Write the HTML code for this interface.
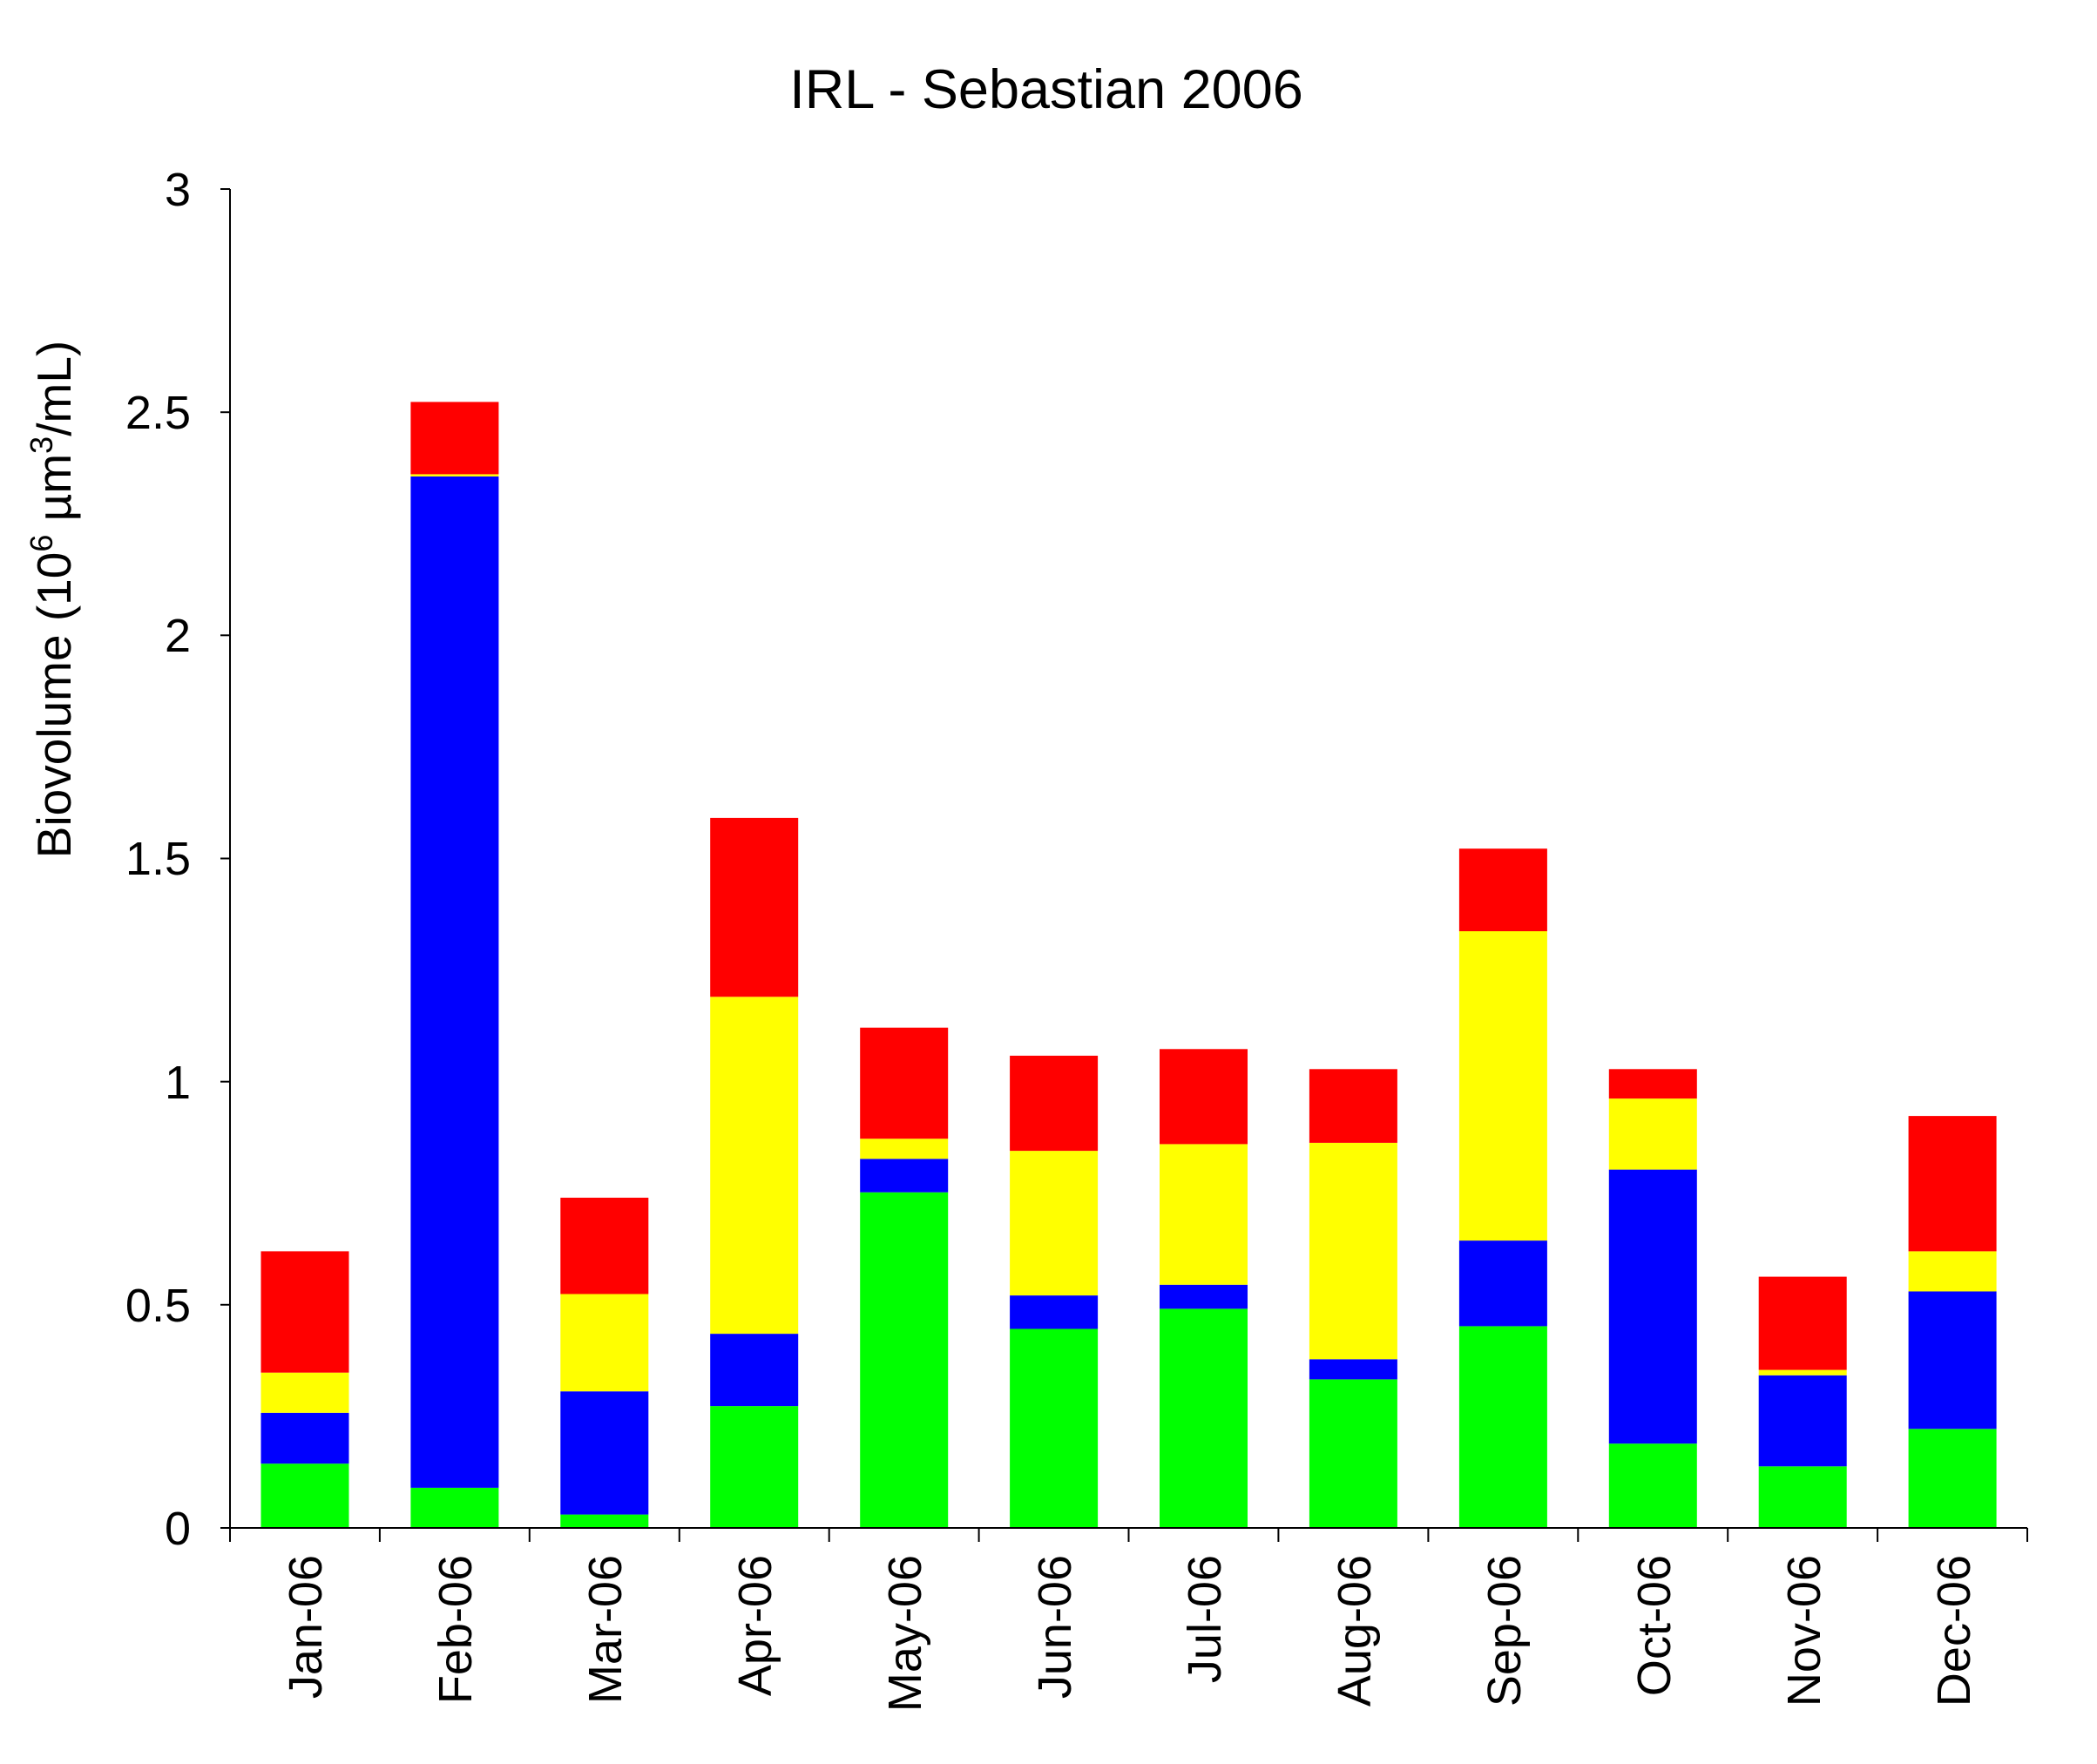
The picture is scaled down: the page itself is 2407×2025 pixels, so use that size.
<!DOCTYPE html>
<html><head><meta charset="utf-8"><style>html,body{margin:0;padding:0;background:#fff}svg{display:block}</style></head>
<body>
<svg width="2407" height="2025" viewBox="0 0 2407 2025" xmlns="http://www.w3.org/2000/svg" font-family="Liberation Sans, Arial, sans-serif">
<rect width="2407" height="2025" fill="#fff"/>
<text x="1201" y="124" font-size="63" text-anchor="middle">IRL - Sebastian 2006</text>
<g>
<rect x="299.5" y="1680.2" width="101" height="73.8" fill="#00ff00"/><rect x="299.5" y="1621.8" width="101" height="58.4" fill="#0000ff"/><rect x="299.5" y="1575.7" width="101" height="46.1" fill="#ffff00"/><rect x="299.5" y="1436.4" width="101" height="139.3" fill="#ff0000"/>
<rect x="471.4" y="1707.9" width="101" height="46.1" fill="#00ff00"/><rect x="471.4" y="546.9" width="101" height="1161" fill="#0000ff"/><rect x="471.4" y="544.4" width="101" height="2.5" fill="#ffff00"/><rect x="471.4" y="461.4" width="101" height="83" fill="#ff0000"/>
<rect x="643.3" y="1738.6" width="101" height="15.4" fill="#00ff00"/><rect x="643.3" y="1597.2" width="101" height="141.4" fill="#0000ff"/><rect x="643.3" y="1485.5" width="101" height="111.7" fill="#ffff00"/><rect x="643.3" y="1374.9" width="101" height="110.6" fill="#ff0000"/>
<rect x="815.2" y="1614.1" width="101" height="139.9" fill="#00ff00"/><rect x="815.2" y="1531.1" width="101" height="83" fill="#0000ff"/><rect x="815.2" y="1144.3" width="101" height="386.8" fill="#ffff00"/><rect x="815.2" y="938.9" width="101" height="205.4" fill="#ff0000"/>
<rect x="987.2" y="1368.7" width="101" height="385.3" fill="#00ff00"/><rect x="987.2" y="1330.3" width="101" height="38.4" fill="#0000ff"/><rect x="987.2" y="1307.2" width="101" height="23.1" fill="#ffff00"/><rect x="987.2" y="1179.7" width="101" height="127.5" fill="#ff0000"/>
<rect x="1159.1" y="1525.5" width="101" height="228.5" fill="#00ff00"/><rect x="1159.1" y="1487.1" width="101" height="38.4" fill="#0000ff"/><rect x="1159.1" y="1321.1" width="101" height="166" fill="#ffff00"/><rect x="1159.1" y="1211.9" width="101" height="109.2" fill="#ff0000"/>
<rect x="1331" y="1502.4" width="101" height="251.6" fill="#00ff00"/><rect x="1331" y="1474.8" width="101" height="27.6" fill="#0000ff"/><rect x="1331" y="1313.4" width="101" height="161.4" fill="#ffff00"/><rect x="1331" y="1204.3" width="101" height="109.1" fill="#ff0000"/>
<rect x="1502.9" y="1583.4" width="101" height="170.6" fill="#00ff00"/><rect x="1502.9" y="1560.3" width="101" height="23.1" fill="#0000ff"/><rect x="1502.9" y="1311.9" width="101" height="248.4" fill="#ffff00"/><rect x="1502.9" y="1227.3" width="101" height="84.6" fill="#ff0000"/>
<rect x="1674.9" y="1522.4" width="101" height="231.6" fill="#00ff00"/><rect x="1674.9" y="1424.1" width="101" height="98.3" fill="#0000ff"/><rect x="1674.9" y="1069" width="101" height="355.1" fill="#ffff00"/><rect x="1674.9" y="974.2" width="101" height="94.8" fill="#ff0000"/>
<rect x="1846.8" y="1657.2" width="101" height="96.8" fill="#00ff00"/><rect x="1846.8" y="1342.6" width="101" height="314.6" fill="#0000ff"/><rect x="1846.8" y="1261.1" width="101" height="81.5" fill="#ffff00"/><rect x="1846.8" y="1227.3" width="101" height="33.8" fill="#ff0000"/>
<rect x="2018.7" y="1683.3" width="101" height="70.7" fill="#00ff00"/><rect x="2018.7" y="1578.8" width="101" height="104.5" fill="#0000ff"/><rect x="2018.7" y="1572.6" width="101" height="6.2" fill="#ffff00"/><rect x="2018.7" y="1465.6" width="101" height="107" fill="#ff0000"/>
<rect x="2190.6" y="1640.3" width="101" height="113.7" fill="#00ff00"/><rect x="2190.6" y="1482.5" width="101" height="157.8" fill="#0000ff"/><rect x="2190.6" y="1436.4" width="101" height="46.1" fill="#ffff00"/><rect x="2190.6" y="1281.1" width="101" height="155.3" fill="#ff0000"/>
</g>
<g stroke="#000" stroke-width="2">
<line x1="264" y1="217" x2="264" y2="1754"/>
<line x1="264" y1="1754" x2="2327" y2="1754"/>
<line x1="253" y1="217" x2="264" y2="217"/><line x1="253" y1="473.2" x2="264" y2="473.2"/><line x1="253" y1="729.3" x2="264" y2="729.3"/><line x1="253" y1="985.5" x2="264" y2="985.5"/><line x1="253" y1="1241.7" x2="264" y2="1241.7"/><line x1="253" y1="1497.8" x2="264" y2="1497.8"/><line x1="253" y1="1754" x2="264" y2="1754"/>
<line x1="264" y1="1754" x2="264" y2="1770"/><line x1="435.9" y1="1754" x2="435.9" y2="1770"/><line x1="607.8" y1="1754" x2="607.8" y2="1770"/><line x1="779.8" y1="1754" x2="779.8" y2="1770"/><line x1="951.7" y1="1754" x2="951.7" y2="1770"/><line x1="1123.6" y1="1754" x2="1123.6" y2="1770"/><line x1="1295.5" y1="1754" x2="1295.5" y2="1770"/><line x1="1467.4" y1="1754" x2="1467.4" y2="1770"/><line x1="1639.4" y1="1754" x2="1639.4" y2="1770"/><line x1="1811.3" y1="1754" x2="1811.3" y2="1770"/><line x1="1983.2" y1="1754" x2="1983.2" y2="1770"/><line x1="2155.1" y1="1754" x2="2155.1" y2="1770"/><line x1="2327" y1="1754" x2="2327" y2="1770"/>
</g>
<g font-size="54" text-anchor="end">
<text x="219" y="236">3</text><text x="219" y="492">2.5</text><text x="219" y="748">2</text><text x="219" y="1004">1.5</text><text x="219" y="1261">1</text><text x="219" y="1517">0.5</text><text x="219" y="1773">0</text>
</g>
<text transform="translate(81,688) rotate(-90)" font-size="55" text-anchor="middle">Biovolume (10<tspan font-size="36" dy="-21">6</tspan><tspan dy="21"> µm</tspan><tspan font-size="36" dy="-21">3</tspan><tspan dy="21">/mL)</tspan></text>
<g font-size="54" text-anchor="end">
<text transform="translate(369,1785) rotate(-90)">Jan-06</text>
<text transform="translate(541,1785) rotate(-90)">Feb-06</text>
<text transform="translate(713,1785) rotate(-90)">Mar-06</text>
<text transform="translate(885,1785) rotate(-90)">Apr-06</text>
<text transform="translate(1057,1785) rotate(-90)">May-06</text>
<text transform="translate(1229,1785) rotate(-90)">Jun-06</text>
<text transform="translate(1401,1785) rotate(-90)">Jul-06</text>
<text transform="translate(1573,1785) rotate(-90)">Aug-06</text>
<text transform="translate(1745,1785) rotate(-90)">Sep-06</text>
<text transform="translate(1917,1785) rotate(-90)">Oct-06</text>
<text transform="translate(2089,1785) rotate(-90)">Nov-06</text>
<text transform="translate(2261,1785) rotate(-90)">Dec-06</text>
</g>
</svg>
</body></html>
